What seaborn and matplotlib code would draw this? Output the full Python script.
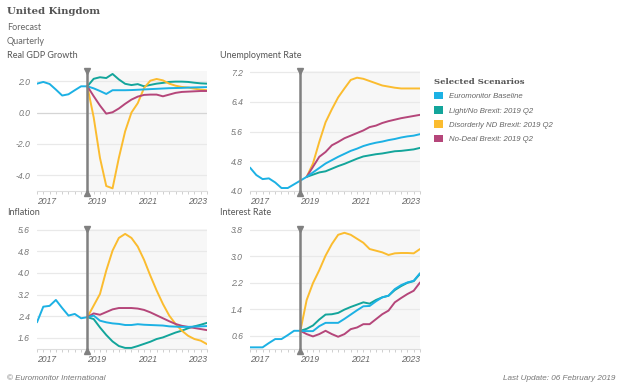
import numpy as np
import pandas as pd
import seaborn as sns
import matplotlib.pyplot as plt
from matplotlib.patches import Patch
from matplotlib.ticker import FixedLocator

sns.set_style('white')
plt.rcParams['font.family'] = ['Liberation Sans', 'DejaVu Sans']

# Quarters shown on the x axis (2017Q1 .. 2023Q4)
quarters = [f'{y}Q{q}' for y in range(2017, 2024) for q in range(1, 5)]
quarter_x = [int(s[:4]) + (int(s[-1]) - 1) / 4 for s in quarters]

scenarios = ['Euromonitor Baseline', 'Light/No Brexit: 2019 Q2',
             'Disorderly ND Brexit: 2019 Q2', 'No-Deal Brexit: 2019 Q2']
colors = ['#1cb1e4', '#13a59b', '#fbbc2f', '#b5467a']
palette = dict(zip(scenarios, colors))
draw_order = [scenarios[1], scenarios[2], scenarios[3], scenarios[0]]

# Real GDP growth: history 2017Q1-2019Q1, scenarios from 2019Q1
gdp_hist = [1.85, 1.96, 1.83, 1.47, 1.09, 1.17, 1.43, 1.68, 1.68]
gdp_base = [1.68, 1.55, 1.38, 1.19, 1.43, 1.43, 1.43, 1.44, 1.46, 1.48,
            1.50, 1.52, 1.54, 1.56, 1.57, 1.58, 1.60, 1.61, 1.62, 1.63]
gdp_light = [1.68, 2.16, 2.26, 2.21, 2.47, 2.12, 1.84, 1.76, 1.82, 1.68,
             1.77, 1.85, 1.90, 1.96, 1.98, 1.98, 1.96, 1.91, 1.87, 1.85]
gdp_disorderly = [1.68, -0.30, -2.90, -4.70, -4.85, -2.90, -1.20, 0.00, 0.60, 1.57,
                  2.04, 2.15, 2.06, 1.85, 1.72, 1.64, 1.60, 1.53, 1.47, 1.43]
gdp_nodeal = [1.68, 1.05, 0.45, -0.07, 0.02, 0.26, 0.56, 0.83, 1.02, 1.13,
              1.15, 1.15, 1.04, 1.15, 1.26, 1.32, 1.34, 1.36, 1.38, 1.38]

# Unemployment rate: history 2017Q1-2019Q2
unemp_hist = [4.63, 4.43, 4.32, 4.34, 4.23, 4.08, 4.08, 4.18, 4.28, 4.38]
unemp_base = [4.38, 4.50, 4.62, 4.74, 4.83, 4.92, 5.00, 5.08, 5.14, 5.21,
              5.26, 5.30, 5.33, 5.37, 5.40, 5.44, 5.47, 5.49, 5.53]
unemp_light = [4.38, 4.44, 4.50, 4.53, 4.60, 4.67, 4.73, 4.80, 4.87, 4.93,
               4.96, 4.99, 5.01, 5.04, 5.07, 5.08, 5.10, 5.12, 5.16]
unemp_disorderly = [4.38, 4.74, 5.32, 5.85, 6.20, 6.52, 6.76, 6.99, 7.05, 7.02,
                    6.96, 6.90, 6.84, 6.81, 6.78, 6.76, 6.76, 6.76, 6.76]
unemp_nodeal = [4.38, 4.65, 4.92, 5.05, 5.23, 5.32, 5.42, 5.49, 5.56, 5.63,
                5.72, 5.76, 5.83, 5.88, 5.92, 5.96, 5.99, 6.02, 6.05]

# Inflation
infl_hist = [2.17, 2.75, 2.78, 3.00, 2.70, 2.42, 2.48, 2.32, 2.36]
infl_base = [2.36, 2.42, 2.23, 2.17, 2.13, 2.11, 2.07, 2.07, 2.10, 2.08,
             2.07, 2.06, 2.05, 2.02, 2.01, 2.00, 2.00, 2.01, 2.02, 2.03]
infl_light = [2.36, 2.29, 1.98, 1.70, 1.46, 1.29, 1.22, 1.22, 1.29, 1.37,
              1.45, 1.55, 1.61, 1.70, 1.79, 1.86, 1.95, 2.02, 2.08, 2.15]
infl_disorderly = [2.36, 2.79, 3.22, 4.09, 4.83, 5.30, 5.45, 5.30, 4.98, 4.49,
                   3.90, 3.35, 2.85, 2.42, 2.11, 1.86, 1.67, 1.55, 1.49, 1.36]
infl_nodeal = [2.36, 2.50, 2.45, 2.55, 2.65, 2.70, 2.70, 2.70, 2.68, 2.63,
               2.54, 2.43, 2.32, 2.21, 2.11, 2.04, 2.00, 1.96, 1.92, 1.88]

# Interest rate
rate_hist = [0.25, 0.25, 0.25, 0.38, 0.50, 0.50, 0.62, 0.75, 0.75]
rate_base = [0.75, 0.74, 0.74, 0.89, 0.99, 0.99, 0.99, 1.11, 1.24, 1.37,
             1.49, 1.50, 1.64, 1.76, 1.81, 2.01, 2.13, 2.21, 2.26, 2.49]
rate_light = [0.75, 0.81, 0.91, 1.09, 1.24, 1.25, 1.29, 1.39, 1.47, 1.54,
              1.61, 1.57, 1.68, 1.76, 1.81, 1.98, 2.10, 2.20, 2.25, 2.47]
rate_disorderly = [0.75, 1.68, 2.19, 2.58, 3.02, 3.37, 3.65, 3.71, 3.65, 3.53,
                   3.41, 3.22, 3.17, 3.12, 3.04, 3.09, 3.10, 3.10, 3.09, 3.22]
rate_nodeal = [0.75, 0.65, 0.58, 0.65, 0.75, 0.65, 0.57, 0.65, 0.80, 0.85,
               0.95, 0.95, 1.10, 1.25, 1.36, 1.61, 1.74, 1.86, 1.96, 2.21]

W, H = 624, 390


def rect(left, top, right, bottom):
    return [left / W, 1 - bottom / H, (right - left) / W, (bottom - top) / H]


def build_frame(hist, base, light, disorderly, nodeal):
    b = len(hist) - 1
    rows = []
    for v, x in zip(hist + base[1:], quarter_x):
        rows.append((x, v, scenarios[0]))
    for name, vals in zip(scenarios[1:], [light, disorderly, nodeal]):
        for v, x in zip(vals, quarter_x[b:]):
            rows.append((x, v, name))
    return pd.DataFrame(rows, columns=['x', 'value', 'scenario'])


panels = [
    ('Real GDP Growth', (gdp_hist, gdp_base, gdp_light, gdp_disorderly, gdp_nodeal),
     [-4.0, -2.0, 0.0, 2.0], (-5.02, 2.66), rect(37, 71, 207, 191), (7, 56)),
    ('Unemployment Rate', (unemp_hist, unemp_base, unemp_light, unemp_disorderly, unemp_nodeal),
     [4.0, 4.8, 5.6, 6.4, 7.2], (4.0, 7.23), rect(250, 71, 420, 191), (220, 56)),
    ('Inflation', (infl_hist, infl_base, infl_light, infl_disorderly, infl_nodeal),
     [1.6, 2.4, 3.2, 4.0, 4.8, 5.6], (1.18, 5.65), rect(37, 228.5, 207, 349), (7, 213)),
    ('Interest Rate', (rate_hist, rate_base, rate_light, rate_disorderly, rate_nodeal),
     [0.6, 1.4, 2.2, 3.0, 3.8], (0.2, 3.84), rect(250, 228.5, 420, 349), (220, 213)),
]

fig = plt.figure(figsize=(W / 100, H / 100), dpi=100)

for title, series, yticks, ylim, r, tpos in panels:
    ax = fig.add_axes(r)
    df = build_frame(*series)
    ax.axvspan(2019.0, 2023.75, color='#f7f7f7', zorder=0, lw=0)
    for yt in yticks:
        ax.axhline(yt, color='#d5d5d5' if yt == 0 else '#e9e9e9', lw=0.9, zorder=1)
    sns.lineplot(data=df, x='x', y='value', hue='scenario', hue_order=draw_order,
                 palette=palette, estimator=None, sort=False, legend=False,
                 linewidth=1.4, ax=ax, zorder=3)
    ax.set_xlim(2017.0, 2023.75)
    ax.set_ylim(*ylim)
    ax.set_xlabel('')
    ax.set_ylabel('')
    ax.set_yticks(yticks)
    ax.set_yticklabels([f'{t:.1f}' for t in yticks], fontsize=6.2,
                       style='italic', color='#777777')
    ax.set_xticks([2017, 2019, 2021, 2023])
    ax.set_xticklabels(['2017', '2019', '2021', '2023'], fontsize=6.2,
                       style='italic', color='#666666', ha='left')
    ax.xaxis.set_minor_locator(FixedLocator(quarter_x))
    ax.tick_params(axis='x', which='both', length=2.5, width=0.6, color='#c8c8c8',
                   pad=2, bottom=True)
    ax.tick_params(axis='y', length=0, pad=5)
    for s in ['top', 'right', 'left']:
        ax.spines[s].set_visible(False)
    ax.spines['bottom'].set_color('#dddddd')
    ax.spines['bottom'].set_linewidth(0.8)
    # forecast start marker
    trans = ax.get_xaxis_transform()
    ax.plot([2019.0, 2019.0], [-0.02, 1.0], transform=trans, color='#808080',
            lw=1.8, clip_on=False, zorder=5)
    ax.plot([2019.0], [1.0], marker='v', ms=4, color='#808080', transform=trans,
            clip_on=False, zorder=5)
    ax.plot([2019.0], [-0.02], marker='^', ms=4, color='#808080', transform=trans,
            clip_on=False, zorder=5)
    fig.text(tpos[0] / W, 1 - tpos[1] / H, title, family='Lato', fontsize=6.5,
             color='#555555', va='center')

fig.text(7 / W, 1 - 12 / H, 'United Kingdom', family='DejaVu Serif',
         weight='bold', fontsize=7.3, color='#555555', va='center')
fig.text(7 / W, 1 - 27 / H, 'Forecast', family='Lato', fontsize=6.5,
         color='#666666', va='center')
fig.text(7 / W, 1 - 41 / H, 'Quarterly', family='Lato', fontsize=6.5,
         color='#666666', va='center')

handles = [Patch(facecolor=c, edgecolor='none', label=n) for n, c in zip(scenarios, colors)]
leg = fig.legend(handles=handles, loc='upper left', bbox_to_anchor=(431 / W, 1 - 75 / H),
                 frameon=False, title='Selected Scenarios',
                 title_fontproperties={'family': 'DejaVu Serif', 'weight': 'bold', 'size': 6.1},
                 prop={'family': 'Liberation Sans', 'style': 'italic', 'size': 5.6},
                 labelcolor='#666666', handlelength=1.1, handleheight=1.1,
                 handletextpad=0.8, labelspacing=0.75, alignment='left', borderaxespad=0)
leg.get_title().set_color('#555555')

fig.text(7 / W, 1 - 378 / H, '\u00a9 Euromonitor International', fontsize=5.8,
         style='italic', color='#777777', va='center')
fig.text(615 / W, 1 - 378 / H, 'Last Update: 06 February 2019', fontsize=5.9,
         style='italic', color='#777777', va='center', ha='right')

fig.savefig('out.png', dpi=100)
